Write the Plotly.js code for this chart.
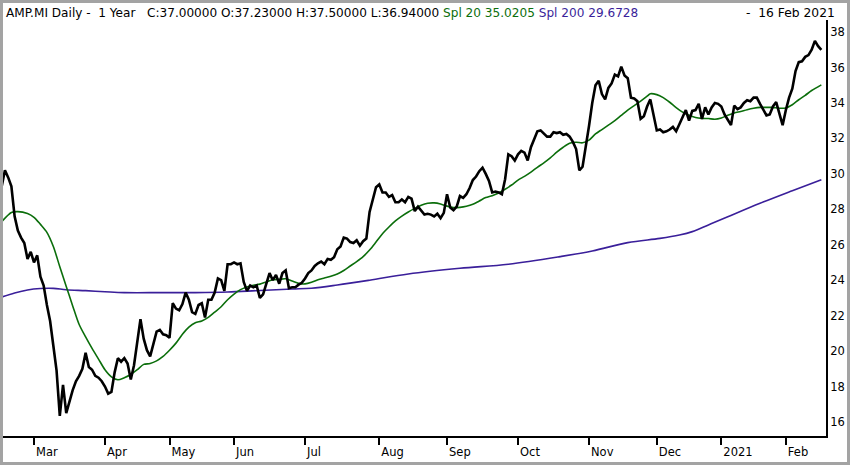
<!DOCTYPE html>
<html>
<head>
<meta charset="utf-8">
<script src="https://cdn.plot.ly/plotly-3.0.1.min.js"></script>
<style>
  body { margin: 0; background: #fff; }
  #chart { width: 850px; height: 465px; box-sizing: border-box; border: 3px solid #a3a3a3; }
</style>
</head>
<body>
<div id="chart"></div>
<script>
// trading calendar (Borsa Italiana), weekends are skipped too
var firstDay = '2020-02-17';
var holidays = ['2020-04-10', '2020-04-13', '2020-05-01', '2020-12-24', '2020-12-25', '2020-12-31', '2021-01-01'];
var monthLabels = ['Mar', 'Apr', 'May', 'Jun', 'Jul', 'Aug', 'Sep', 'Oct', 'Nov', 'Dec', '2021', 'Feb'];

// daily close, AMP.MI
var closes = [
  29.3, 30.2, 29.8, 29.3, 27.6, 26.8, 26.4, 26.1, 25.2, 25.6,
  25.0, 25.4, 24.2, 23.7, 22.6, 21.7, 20.3, 18.9, 16.35, 18.1,
  16.5, 17.2, 17.8, 18.3, 18.6, 19.0, 19.9, 19.1, 18.95, 18.6,
  18.5, 18.3, 18.0, 17.6, 17.7, 18.8, 19.6, 19.4, 19.6, 19.3,
  18.4, 19.2, 20.6, 21.8, 20.7, 20.05, 19.7, 20.4, 21.1, 21.2,
  20.95, 20.9, 20.75, 22.7, 22.4, 22.3, 22.65, 23.3, 22.9, 22.2,
  22.1, 22.6, 22.7, 21.9, 22.9, 22.9, 23.3, 24.1, 24.0, 23.4,
  24.9, 24.9, 25.0, 24.9, 24.95, 23.9, 23.4, 23.7, 23.6, 23.7,
  23.0, 23.2, 23.8, 24.4, 24.0, 24.3, 23.8, 24.4, 24.55, 23.55,
  23.6, 23.6, 23.75, 23.85, 24.1, 24.4, 24.55, 24.8, 24.95, 25.05,
  24.9, 25.2, 25.15, 25.3, 25.75, 25.9, 26.4, 26.35, 26.15, 26.1,
  26.25, 25.95, 26.2, 26.35, 27.85, 28.5, 29.25, 29.4, 28.95, 28.95,
  28.7, 28.8, 28.4, 28.4, 28.55, 28.4, 28.7, 28.6, 27.9, 28.15,
  27.95, 27.7, 27.75, 27.7, 27.6, 27.75, 27.5, 27.8, 28.85, 28.1,
  27.95, 28.15, 28.75, 28.65, 28.85, 29.2, 29.65, 29.85, 30.15, 30.35,
  30.0, 29.6, 28.95, 29.0, 28.95, 28.85, 29.7, 31.1, 31.0, 30.75,
  31.1, 31.3, 31.2, 30.75, 31.5, 32.0, 32.4, 32.45, 32.25, 32.1,
  32.1, 32.35, 32.3, 32.35, 32.2, 32.25, 32.1, 31.8, 31.4, 30.2,
  30.4, 31.5, 32.7, 34.0, 35.0, 35.25, 34.5, 34.2, 34.85, 35.1,
  35.6, 35.5, 36.05, 35.55, 35.4, 34.3, 34.25, 34.1, 33.1, 33.25,
  33.8, 34.2, 33.3, 32.45, 32.5, 32.35, 32.4, 32.5, 32.65, 32.4,
  32.8, 33.25, 33.6, 33.0, 33.55, 33.6, 33.95, 33.1, 33.75, 33.35,
  33.75, 34.0, 33.95, 33.8, 33.35, 33.05, 32.75, 33.85, 33.65, 33.75,
  34.0, 34.15, 34.1, 34.3, 34.3, 33.95, 33.65, 33.3, 33.35, 33.8,
  34.05, 33.4, 32.75, 33.6, 34.3, 34.8, 35.8, 36.3, 36.35, 36.6,
  36.7, 37.0, 37.5, 37.2, 37.0
];

// simple moving averages, read at some trading-day positions
var spl20Day = [0, 3, 5, 8, 10, 12, 14, 16, 18, 20, 22, 24, 26, 28, 30, 32, 34, 36, 38, 40,
  42, 44, 46, 48, 50, 52, 54, 56, 58, 60, 62, 64, 66, 68, 70, 72, 74, 76, 78, 80,
  82, 84, 86, 88, 90, 92, 94, 96, 98, 100, 102, 104, 106, 108, 110, 112, 114, 116, 118, 120,
  122, 124, 126, 128, 130, 132, 134, 136, 138, 140, 142, 144, 146, 148, 150, 152, 154, 156, 158, 160,
  162, 164, 166, 168, 170, 172, 174, 176, 178, 180, 182, 184, 186, 188, 190, 192, 194, 196, 198, 200,
  201, 203, 205, 207, 209, 211, 213, 215, 217, 219, 221, 223, 225, 227, 229, 231, 233, 235, 237, 239,
  241, 243, 245, 247, 249, 251, 254];
var spl20 = [27.3, 27.82, 27.87, 27.76, 27.55, 27.15, 26.7, 25.9, 24.76, 23.65, 22.55, 21.5, 20.8, 20.15, 19.55, 18.95, 18.55, 18.38, 18.5, 18.68,
  18.95, 19.25, 19.3, 19.45, 19.7, 20.05, 20.45, 20.95, 21.35, 21.6, 21.7, 21.9, 22.2, 22.5, 22.9, 23.22, 23.47, 23.62, 23.72, 23.78,
  23.9, 24.02, 24.05, 24.08, 23.95, 23.82, 23.79, 23.88, 24.02, 24.12, 24.22, 24.35, 24.55, 24.8, 25.05, 25.33, 25.7, 26.15, 26.62, 27.0,
  27.35, 27.62, 27.85, 28.05, 28.23, 28.34, 28.36, 28.3, 28.18, 28.1, 28.11, 28.17, 28.28, 28.47, 28.66, 28.77, 28.92, 29.13, 29.37, 29.65,
  29.86, 30.1, 30.37, 30.62, 30.9, 31.22, 31.5, 31.72, 31.78, 31.75, 31.9, 32.25, 32.5, 32.75, 33.0, 33.3, 33.6, 33.85, 34.1, 34.38,
  34.52, 34.47, 34.3, 34.04, 33.74, 33.48, 33.3, 33.18, 33.13, 33.12, 33.08, 33.15, 33.3, 33.43, 33.52, 33.62, 33.7, 33.75, 33.75, 33.75,
  33.7, 33.72, 33.9, 34.18, 34.43, 34.7, 35.02];

var spl200Day = [0, 4, 8, 12, 16, 20, 26, 32, 38, 50, 60, 70, 80, 90, 96, 104, 114, 126, 142, 157,
  173, 183, 194, 204, 210, 214, 219, 225, 235, 245, 254];
var spl200 = [23.05, 23.28, 23.45, 23.53, 23.54, 23.46, 23.41, 23.35, 23.3, 23.3, 23.3, 23.33, 23.42, 23.5, 23.55, 23.73, 24.0, 24.35, 24.67, 24.9,
  25.33, 25.65, 26.12, 26.36, 26.55, 26.74, 27.12, 27.58, 28.34, 29.05, 29.67];

var yTicks = [16, 18, 20, 22, 24, 26, 28, 30, 32, 34, 36, 38];

function iso(d) {
  return d.toISOString().slice(0, 10);
}

// list the trading days, one per close
var days = [];
var d = new Date(firstDay + 'T00:00:00Z');
while (days.length < closes.length) {
  var wd = d.getUTCDay();
  if (wd != 0 && wd != 6 && holidays.indexOf(iso(d)) < 0) {
    days.push(iso(d));
  }
  d.setUTCDate(d.getUTCDate() + 1);
}

// first trading day of each month gets a tick
var tickDays = [];
for (var i = 1; i < days.length; i++) {
  if (days[i].slice(0, 7) != days[i - 1].slice(0, 7)) tickDays.push(days[i]);
}

function pick(idx) {
  return idx.map(function(k) { return days[k]; });
}

var green = '#0b6e0b';
var purple = '#3a1f9a';

var traces = [
  {
    x: pick(spl200Day), y: spl200, type: 'scatter', mode: 'lines',
    line: {color: purple, width: 1.6, shape: 'spline', smoothing: 1}
  },
  {
    x: pick(spl20Day), y: spl20, type: 'scatter', mode: 'lines',
    line: {color: green, width: 1.6, shape: 'spline', smoothing: 0.8}
  },
  {
    x: days, y: closes, type: 'scatter', mode: 'lines',
    line: {color: '#000', width: 2.6}
  }
];

var nb = '\u00a0';
var header = 'AMP.MI Daily -' + nb + nb + '1 Year' + nb + nb + nb + 'C:37.00000 O:37.23000 H:37.50000 L:36.94000 ' +
  '<span style="color:' + green + '">Spl 20 35.0205</span> ' +
  '<span style="color:' + purple + '">Spl 200 29.6728</span>';

var layout = {
  width: 844,
  height: 459,
  margin: {l: 0, r: 21, t: 17, b: 26},
  paper_bgcolor: '#fff',
  plot_bgcolor: '#fff',
  showlegend: false,
  font: {family: 'DejaVu Sans', size: 12, color: '#000'},
  xaxis: {
    type: 'category',
    categoryorder: 'array',
    categoryarray: days,
    range: [0.4, 255.44],
    tickvals: tickDays,
    ticktext: monthLabels,
    ticks: 'outside',
    ticklen: 7,
    tickwidth: 2,
    tickcolor: '#000',
    ticklabelposition: 'outside right',
    ticklabelstandoff: 4,
    showgrid: false,
    zeroline: false,
    showline: true,
    linecolor: '#000',
    linewidth: 2,
    automargin: false,
    tickfont: {family: 'DejaVu Sans', size: 11.5, color: '#000'}
  },
  yaxis: {
    side: 'right',
    range: [15.21, 38.68],
    tickvals: yTicks,
    ticks: '',
    showgrid: false,
    zeroline: false,
    showline: true,
    linecolor: '#000',
    linewidth: 2,
    automargin: false,
    tickfont: {family: 'DejaVu Sans', size: 11.5, color: '#000'}
  },
  annotations: [
    {
      xref: 'paper', yref: 'paper', x: 0.0012, y: 1.017,
      xanchor: 'left', yanchor: 'middle', showarrow: false,
      text: header,
      font: {family: 'DejaVu Sans', size: 12.1, color: '#000'}
    },
    {
      xref: 'paper', yref: 'paper', x: 1.0134, y: 1.017,
      xanchor: 'right', yanchor: 'middle', showarrow: false,
      text: '-' + nb + nb + '16 Feb 2021',
      font: {family: 'DejaVu Sans', size: 12.3, color: '#000'}
    }
  ]
};

Plotly.newPlot('chart', traces, layout, {displayModeBar: false, staticPlot: true});
</script>
</body>
</html>
